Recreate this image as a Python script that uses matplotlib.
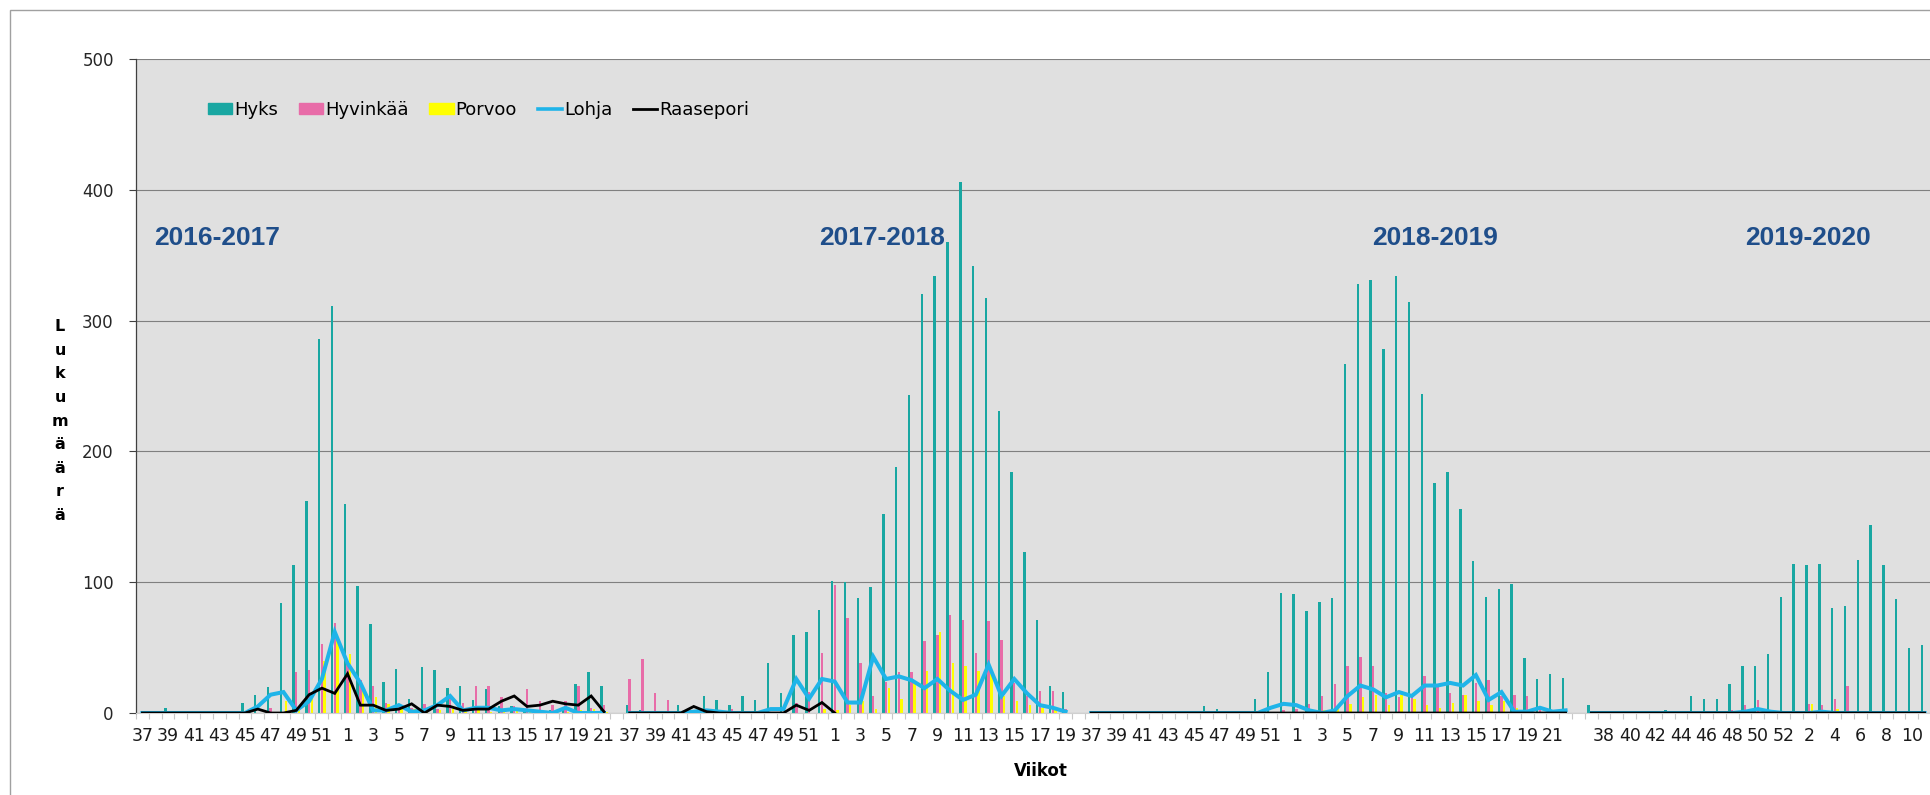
import matplotlib

matplotlib.use("Agg")

import numpy as np
from matplotlib import pyplot as plt
from matplotlib.lines import Line2D
from matplotlib.patches import Patch, Rectangle

# week numbers of each influenza season
WEEKS_1617 = [37, 38, 39, 40, 41, 42, 43, 44, 45, 46, 47, 48, 49, 50, 51, 52,
              1, 2, 3, 4, 5, 6, 7, 8, 9, 10, 11, 12, 13, 14, 15, 16, 17, 18, 19, 20, 21]
WEEKS_1718 = [37, 38, 39, 40, 41, 42, 43, 44, 45, 46, 47, 48, 49, 50, 51, 52,
              1, 2, 3, 4, 5, 6, 7, 8, 9, 10, 11, 12, 13, 14, 15, 16, 17, 18, 19]
WEEKS_1819 = [37, 38, 39, 40, 41, 42, 43, 44, 45, 46, 47, 48, 49, 50, 51, 52,
              1, 2, 3, 4, 5, 6, 7, 8, 9, 10, 11, 12, 13, 14, 15, 16, 17, 18, 19, 20, 21, 22]
WEEKS_1920 = [37, 38, 39, 40, 41, 42, 43, 44, 45, 46, 47, 48, 49, 50, 51, 52,
              1, 2, 3, 4, 5, 6, 7, 8, 9, 10, 11]

SEASON_NAMES = ["2016-2017", "2017-2018", "2018-2019", "2019-2020"]

# Hyks
HYKS_1617 = [0, 0, 4, 0, 0, 0, 0, 0, 8, 14, 20, 84, 113, 162, 286, 311,
             160, 97, 68, 24, 34, 11, 35, 33, 19, 21, 10, 18, 5, 5, 3, 2, 2, 2, 22, 31, 21]
HYKS_1718 = [6, 2, 0, 0, 6, 2, 13, 10, 6, 13, 10, 38, 15, 60, 62, 79,
             101, 100, 88, 96, 152, 188, 243, 320, 334, 360, 406, 342, 317, 231, 184, 123, 71, 21, 16]
HYKS_1819 = [0, 0, 0, 0, 1, 0, 0, 0, 0, 5, 3, 1, 0, 11, 31, 92,
             91, 78, 85, 88, 267, 328, 331, 278, 334, 314, 244, 176, 184, 156, 116, 89, 95, 99, 42, 26, 30, 27]
HYKS_1920 = [6, 1, 0, 0, 0, 0, 2, 0, 13, 11, 11, 22, 36, 36, 45, 89,
             114, 113, 114, 80, 82, 117, 144, 113, 87, 50, 52]

# Hyvinkää
HYVINKAA_1617 = [0, 0, 0, 0, 0, 0, 0, 0, 0, 0, 4, 0, 31, 33, 53, 69,
                 38, 25, 21, 8, 7, 4, 7, 3, 14, 8, 21, 21, 12, 5, 18, 9, 6, 9, 21, 4, 6]
HYVINKAA_1718 = [26, 41, 15, 10, 0, 0, 0, 0, 3, 0, 0, 0, 0, 8, 16, 46,
                 98, 73, 38, 13, 24, 31, 31, 55, 60, 75, 71, 46, 70, 56, 23, 13, 17, 17, 3]
HYVINKAA_1819 = [0, 0, 0, 0, 0, 0, 0, 0, 0, 0, 0, 0, 0, 0, 0, 2,
                 3, 7, 13, 22, 36, 43, 36, 15, 12, 13, 28, 21, 15, 14, 23, 25, 13, 14, 13, 3, 0, 0]
HYVINKAA_1920 = [0, 0, 0, 0, 0, 0, 0, 0, 0, 0, 0, 2, 6, 10, 0, 0,
                 0, 7, 6, 11, 21, 0, 0, 0, 0, 0, 0]

# Porvoo
PORVOO_1617 = [0, 0, 0, 0, 0, 0, 0, 0, 0, 0, 0, 9, 3, 14, 40, 55,
               45, 20, 12, 7, 5, 3, 2, 2, 3, 2, 2, 1, 2, 2, 1, 1, 1, 1, 2, 3, 1]
PORVOO_1718 = [0, 0, 0, 0, 0, 0, 0, 0, 0, 0, 0, 0, 0, 0, 0, 3,
               2, 6, 9, 3, 19, 11, 23, 32, 62, 38, 36, 32, 30, 13, 9, 6, 4, 2, 0]
PORVOO_1819 = [0, 0, 0, 0, 0, 0, 0, 0, 0, 0, 0, 0, 0, 0, 0, 0,
               0, 0, 2, 3, 7, 12, 14, 6, 14, 11, 6, 4, 8, 14, 9, 6, 9, 4, 2, 0, 0, 0]
PORVOO_1920 = [0, 0, 0, 0, 0, 0, 0, 0, 0, 0, 0, 0, 0, 0, 0, 0,
               0, 7, 0, 3, 0, 0, 0, 0, 0, 0, 0]

# Lohja
LOHJA_1617 = [0, 0, 0, 0, 0, 0, 0, 0, 0, 5, 14, 16, 2, 9, 26, 62,
              38, 23, 2, 2, 6, 1, 2, 6, 13, 2, 4, 4, 2, 3, 2, 1, 0, 4, 0, 0, 0]
LOHJA_1718 = [0, 0, 0, 0, 0, 1, 2, 1, 0, 0, 0, 3, 3, 26, 11, 26,
              24, 8, 8, 43, 26, 28, 25, 19, 26, 17, 10, 14, 37, 13, 26, 15, 6, 4, 1]
LOHJA_1819 = [0, 0, 0, 0, 0, 0, 0, 0, 0, 0, 0, 0, 0, 0, 4, 7,
              6, 2, 0, 2, 13, 21, 18, 12, 16, 13, 21, 21, 23, 21, 29, 10, 16, 1, 1, 4, 1, 2]
LOHJA_1920 = [0, 0, 0, 0, 0, 0, 0, 0, 0, 0, 0, 0, 1, 3, 1, 0,
              0, 0, 1, 0, 0, 0, 0, 0, 0, 0, 0]

# Raasepori
RAASEPORI_1617 = [0, 0, 0, 0, 0, 0, 0, 0, 0, 3, 0, 0, 2, 14, 19, 15,
                  30, 6, 6, 2, 3, 7, 0, 6, 5, 2, 3, 3, 9, 13, 5, 6, 9, 7, 6, 13, 1]
RAASEPORI_1718 = [0, 0, 0, 0, 0, 5, 1, 0, 0, 0, 0, 0, 0, 6, 2, 8,
                  0, None, None, None, None, None, None, None, None, None, None, None, None,
                  None, None, None, None, None, None]
RAASEPORI_1819 = [0, 0, 0, 0, 0, 0, 0, 0, 0, 0, 0, 0, 0, 0, 0, 0,
                  0, 0, 0, 0, 0, 0, 0, 0, 0, 0, 0, 0, 0, 0, 0, 0, 0, 0, 0, 0, 0, 0]
RAASEPORI_1920 = [0, 0, 0, 0, 0, 0, 0, 0, 0, 0, 0, 0, 0, 0, 0, 0,
                  0, 0, 0, 0, 0, 0, 0, 0, 0, 0, 0]

COLORS = {
    "Hyks": "#19A7A2",
    "Hyvinkää": "#E86CA8",
    "Porvoo": "#FFFF00",
    "Lohja": "#1FB4E9",
    "Raasepori": "#000000",
}

W, H = 1931, 795


def join_seasons(parts):
    # one empty category between seasons
    out = []
    for i, part in enumerate(parts):
        out.extend(part)
        if i < len(parts) - 1:
            out.append(None)
    return np.array(out, dtype=float)


def join_labels(parts):
    out = []
    for i, part in enumerate(parts):
        out.extend(str(w) for w in part)
        if i < len(parts) - 1:
            out.append("")
    return out


week_parts = [WEEKS_1617, WEEKS_1718, WEEKS_1819, WEEKS_1920]
labels = join_labels(week_parts)
hyks = join_seasons([HYKS_1617, HYKS_1718, HYKS_1819, HYKS_1920])
hyvinkaa = join_seasons([HYVINKAA_1617, HYVINKAA_1718, HYVINKAA_1819, HYVINKAA_1920])
porvoo = join_seasons([PORVOO_1617, PORVOO_1718, PORVOO_1819, PORVOO_1920])
lohja = join_seasons([LOHJA_1617, LOHJA_1718, LOHJA_1819, LOHJA_1920])
raasepori = join_seasons([RAASEPORI_1617, RAASEPORI_1718, RAASEPORI_1819, RAASEPORI_1920])
x = np.arange(len(labels))

plt.rcParams["font.family"] = ["DejaVu Sans"]

fig = plt.figure(figsize=(W / 100, H / 100), dpi=100)
ax = fig.add_axes([136 / W, 1 - 713 / H, (W - 136) / W, (713 - 59) / H])
ax.set_facecolor("#E0E0E0")

bw = 0.19
off = 0.21
ax.bar(x - off, np.nan_to_num(hyks), width=bw, color=COLORS["Hyks"], zorder=2)
ax.bar(x, np.nan_to_num(hyvinkaa), width=bw, color=COLORS["Hyvinkää"], zorder=2)
ax.bar(x + off, np.nan_to_num(porvoo), width=bw, color=COLORS["Porvoo"], zorder=2)
ax.plot(x, lohja, color=COLORS["Lohja"], lw=2.9, zorder=3, solid_joinstyle="miter")
ax.plot(x, raasepori, color=COLORS["Raasepori"], lw=2.0, zorder=4, solid_joinstyle="miter")

ax.set_xlim(-0.5, len(labels) - 0.5)
ax.set_ylim(0, 500)
ax.set_yticks(range(0, 501, 100))
ax.grid(axis="y", color="#808080", lw=0.8)
ax.set_axisbelow(True)

ax.set_xticks(x[::2])
ax.set_xticklabels(labels[::2], fontsize=12.5, color="#1A1A1A")
ax.set_xticks(np.arange(-0.5, len(labels), 1), minor=True)
ax.tick_params(axis="x", which="major", length=0, pad=10)
ax.tick_params(axis="x", which="minor", length=4, color="#C8C8C8", width=0.8)
ax.tick_params(axis="y", length=5, color="#404040", width=0.8, pad=11, labelsize=12, labelcolor="#262626")

for side in ["top", "right"]:
    ax.spines[side].set_visible(False)
ax.spines["left"].set_color("#404040")
ax.spines["left"].set_linewidth(0.9)
ax.spines["bottom"].set_color("#D0D0D0")
ax.spines["bottom"].set_linewidth(0.8)

# season titles
season_pos = [0.0451, 0.4156, 0.7237, 0.9315]
for name, xp in zip(SEASON_NAMES, season_pos):
    ax.text(xp, 0.726, name, transform=ax.transAxes, ha="center", va="center",
            fontsize=19, fontweight="bold", color="#1F4E8A", family=["Liberation Sans", "DejaVu Sans"])

handles = [
    Patch(color=COLORS["Hyks"], label="Hyks"),
    Patch(color=COLORS["Hyvinkää"], label="Hyvinkää"),
    Patch(color=COLORS["Porvoo"], label="Porvoo"),
    Line2D([], [], color=COLORS["Lohja"], lw=2.6, label="Lohja"),
    Line2D([], [], color=COLORS["Raasepori"], lw=2.0, label="Raasepori"),
]
fig.legend(handles=handles, ncol=5, loc="center left", bbox_to_anchor=(208 / W, 1 - 110 / H),
           frameon=False, fontsize=13, handlelength=1.35, handleheight=0.5,
           handletextpad=0.1, columnspacing=1.15, borderpad=0, borderaxespad=0)

fig.text(60 / W, 1 - 421 / H, "\n".join("Lukumäärä"), ha="center", va="center",
         fontsize=11.5, fontweight="bold", linespacing=1.72)
fig.text(1041 / W, 1 - 771 / H, "Viikot", ha="center", va="center", fontsize=12, fontweight="bold")

# chart area border (only top and left edges are inside the picture)
fig.add_artist(Rectangle((10 / W, -0.5), 2, 1.5 - 10 / H, transform=fig.transFigure,
                         fill=False, edgecolor="#A0A0A0", lw=1))

fig.savefig("out.png", dpi=100)
